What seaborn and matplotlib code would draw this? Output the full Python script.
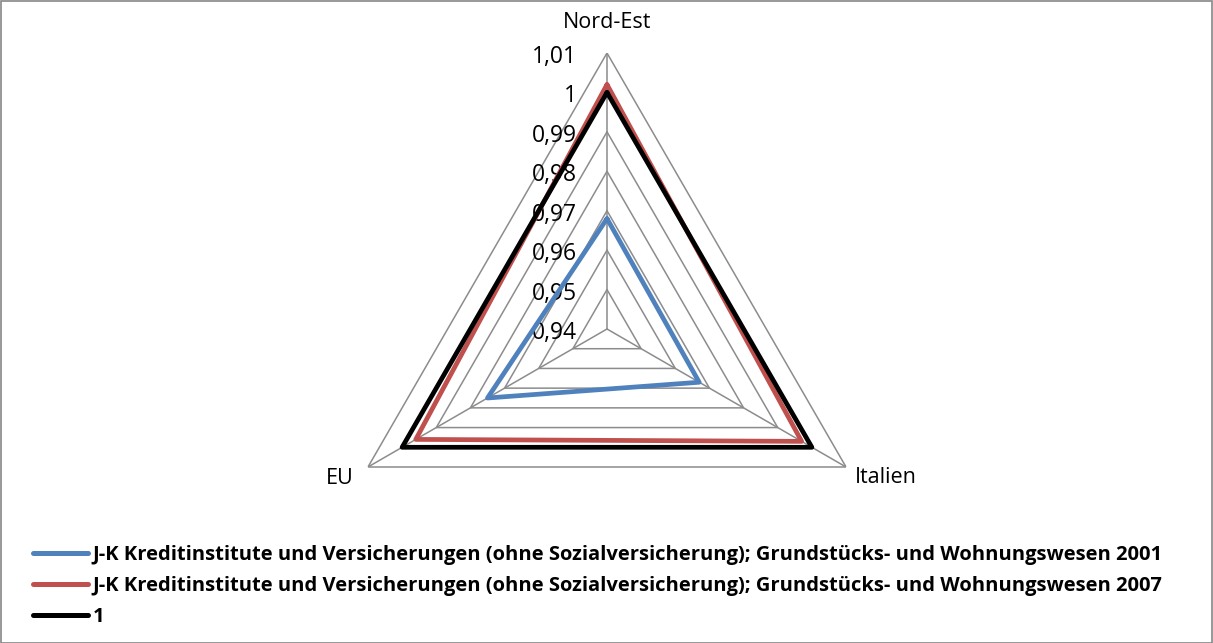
import numpy as np
import matplotlib
matplotlib.use("Agg")
import matplotlib.pyplot as plt
import matplotlib.transforms as mtransforms
import seaborn as sns

categories = ["Nord-Est", "Italien", "EU"]
series_names = [
    "J-K Kreditinstitute und Versicherungen (ohne Sozialversicherung); Grundstücks- und Wohnungswesen 2001",
    "J-K Kreditinstitute und Versicherungen (ohne Sozialversicherung); Grundstücks- und Wohnungswesen 2007",
    "1",
]
values_2001 = [0.968, 0.967, 0.975]
values_2007 = [1.002, 0.997, 0.996]
values_one = [1.0, 1.0, 1.0]
ring_levels = [0.94, 0.95, 0.96, 0.97, 0.98, 0.99, 1.00, 1.01]
ring_labels = ["0,94", "0,95", "0,96", "0,97", "0,98", "0,99", "1", "1,01"]

colors = ["#4F81BD", "#C0504D", "#000000"]

sns.set_style("white")
plt.rcParams["font.family"] = ["Open Sans", "DejaVu Sans"]
plt.rcParams["text.color"] = "black"

W, H = 1213, 643
fig = plt.figure(figsize=(W / 100, H / 100), dpi=100)
cx, cy, R = 607, 329, 276
ax = fig.add_axes([(cx - R) / W, (H - cy - R) / H, 2 * R / W, 2 * R / H], projection="polar")
ax.set_theta_offset(np.pi / 2)
ax.set_theta_direction(-1)
ax.set_ylim(ring_levels[0], ring_levels[-1])
ax.grid(False)
ax.spines["polar"].set_visible(False)
ax.set_xticks([])
ax.set_yticks([])
ax.patch.set_alpha(0)

n = len(categories)
theta = np.arange(n) * 2 * np.pi / n
theta_closed = np.append(theta, theta[0])

grid_color = "#8C8C8C"
for lv in ring_levels[1:]:
    ax.plot(theta_closed, [lv] * (n + 1), color=grid_color, lw=1.1, zorder=1)
for t in theta:
    ax.plot([t, t], [ring_levels[0], ring_levels[-1]], color=grid_color, lw=1.1, zorder=1)

for vals, col, name in zip([values_2001, values_2007, values_one], colors, series_names):
    sns.lineplot(x=theta_closed, y=np.append(vals, vals[0]), ax=ax, sort=False, estimator=None,
                 color=col, lw=3.4, label=name, zorder=3)

# radial labels
off = mtransforms.offset_copy(ax.transData, fig=fig, x=-30, y=-4, units="dots")
for lv, lab in zip(ring_levels, ring_labels):
    ax.text(0, lv, lab, transform=off, ha="right", va="center", fontsize=16.5, color="black", zorder=2)

# category labels
cat_offsets = [(0, 30, "center", "center"), (9, -11, "left", "center"), (-14, -11, "right", "center")]
for t, cat, (dx, dy, ha, va) in zip(theta, categories, cat_offsets):
    tr = mtransforms.offset_copy(ax.transData, fig=fig, x=dx, y=dy, units="dots")
    ax.text(t, ring_levels[-1], cat, transform=tr, ha=ha, va=va, fontsize=15.5, color="black")

leg = ax.legend(loc="upper left", bbox_to_anchor=(33 / W, 1 - 545 / H), bbox_transform=fig.transFigure,
                frameon=False, prop={"weight": "bold", "size": 14.5}, handlelength=2.75,
                handletextpad=0.2, labelspacing=0.55, borderaxespad=0, borderpad=0)
for line in leg.get_lines():
    line.set_linewidth(3.6)
for txt in leg.get_texts():
    txt.set_color("black")

fig.patches.append(plt.Rectangle((0.5 / W, 0.5 / H), 1 - 1.5 / W, 1 - 1.5 / H, transform=fig.transFigure,
                                 fill=False, edgecolor="#868686", lw=1.2))

fig.savefig("out.png", dpi=100)
